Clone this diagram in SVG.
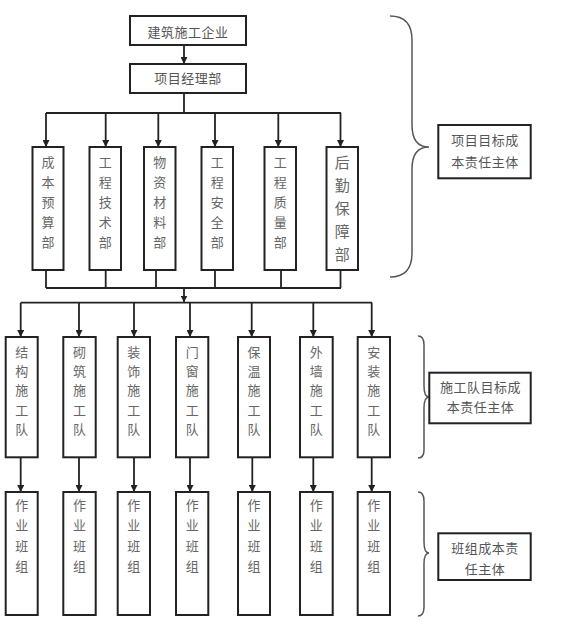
<svg xmlns="http://www.w3.org/2000/svg" width="572" height="633" viewBox="0 0 572 633">
<style>
.box{fill:#fff;stroke:#222;stroke-width:2}
.ln{fill:none;stroke:#222;stroke-width:1.8}
.br{fill:none;stroke:#555;stroke-width:1.5}
.t{font-family:"Noto Sans CJK SC","Noto Sans CJK TC",sans-serif;font-size:13px;fill:#666;text-anchor:middle}
.tb{font-size:15px}
.th{fill:#555;letter-spacing:0.5px}
</style>
<defs>
<marker id="ah" viewBox="0 0 8 8" refX="8" refY="4" markerWidth="7" markerHeight="7" markerUnits="userSpaceOnUse" orient="auto">
<path d="M0,0 L8,4 L0,8 z" fill="#222"/>
</marker>
</defs>
<rect width="572" height="633" fill="#fff"/>
<g id="connectors">
<line class="ln" x1="184" y1="45" x2="184" y2="64" marker-end="url(#ah)"/>
<line class="ln" x1="184" y1="93" x2="184" y2="113"/>
<line class="ln" x1="46" y1="113" x2="341" y2="113"/>
<line class="ln" x1="46" y1="113" x2="46" y2="147" marker-end="url(#ah)"/>
<line class="ln" x1="105.7" y1="113" x2="105.7" y2="147" marker-end="url(#ah)"/>
<line class="ln" x1="158.3" y1="113" x2="158.3" y2="147" marker-end="url(#ah)"/>
<line class="ln" x1="215" y1="113" x2="215" y2="147" marker-end="url(#ah)"/>
<line class="ln" x1="278.3" y1="113" x2="278.3" y2="147" marker-end="url(#ah)"/>
<line class="ln" x1="340.5" y1="113" x2="340.5" y2="147" marker-end="url(#ah)"/>
<line class="ln" x1="46" y1="270" x2="46" y2="288"/>
<line class="ln" x1="105.7" y1="270" x2="105.7" y2="288"/>
<line class="ln" x1="156" y1="270" x2="156" y2="288"/>
<line class="ln" x1="215" y1="270" x2="215" y2="288"/>
<line class="ln" x1="281" y1="270" x2="281" y2="288"/>
<line class="ln" x1="340.5" y1="270" x2="340.5" y2="288"/>
<line class="ln" x1="46" y1="288" x2="341" y2="288"/>
<line class="ln" x1="184" y1="288" x2="184" y2="302.5" marker-end="url(#ah)"/>
<line class="ln" x1="20.7" y1="302.7" x2="372" y2="302.7"/>
<line class="ln" x1="20.7" y1="302.7" x2="20.7" y2="337" marker-end="url(#ah)"/>
<line class="ln" x1="79" y1="302.7" x2="79" y2="337" marker-end="url(#ah)"/>
<line class="ln" x1="134" y1="302.7" x2="134" y2="337" marker-end="url(#ah)"/>
<line class="ln" x1="190" y1="302.7" x2="190" y2="337" marker-end="url(#ah)"/>
<line class="ln" x1="251.7" y1="302.7" x2="251.7" y2="337" marker-end="url(#ah)"/>
<line class="ln" x1="313.3" y1="302.7" x2="313.3" y2="337" marker-end="url(#ah)"/>
<line class="ln" x1="371.7" y1="302.7" x2="371.7" y2="337" marker-end="url(#ah)"/>
<line class="ln" x1="20.7" y1="457.3" x2="20.7" y2="492" marker-end="url(#ah)"/>
<line class="ln" x1="79" y1="457.3" x2="79" y2="492" marker-end="url(#ah)"/>
<line class="ln" x1="134" y1="457.3" x2="134" y2="492" marker-end="url(#ah)"/>
<line class="ln" x1="190" y1="457.3" x2="190" y2="492" marker-end="url(#ah)"/>
<line class="ln" x1="252.3" y1="457.3" x2="252.3" y2="492" marker-end="url(#ah)"/>
<line class="ln" x1="313.3" y1="457.3" x2="313.3" y2="492" marker-end="url(#ah)"/>
<line class="ln" x1="371.7" y1="457.3" x2="371.7" y2="492" marker-end="url(#ah)"/>
</g>
<g id="n-company"><rect class="box" x="130" y="16" width="116" height="29"/><text class="t th" x="188" y="36.5">建筑施工企业</text></g>
<g id="n-pm"><rect class="box" x="130" y="64" width="116" height="29"/><text class="t th" x="188" y="83.3">项目经理部</text></g>
<g id="n-d1"><rect class="box" x="32.5" y="147" width="31" height="123"/><text class="t" y="166.7"><tspan x="48">成</tspan><tspan x="48" dy="20">本</tspan><tspan x="48" dy="20">预</tspan><tspan x="48" dy="20">算</tspan><tspan x="48" dy="20">部</tspan></text></g>
<g id="n-d2"><rect class="box" x="89.5" y="147" width="31.5" height="123"/><text class="t" y="166.7"><tspan x="105.3">工</tspan><tspan x="105.3" dy="20">程</tspan><tspan x="105.3" dy="20">技</tspan><tspan x="105.3" dy="20">术</tspan><tspan x="105.3" dy="20">部</tspan></text></g>
<g id="n-d3"><rect class="box" x="144" y="147" width="31.5" height="123"/><text class="t" y="166.7"><tspan x="159.8">物</tspan><tspan x="159.8" dy="20">资</tspan><tspan x="159.8" dy="20">材</tspan><tspan x="159.8" dy="20">料</tspan><tspan x="159.8" dy="20">部</tspan></text></g>
<g id="n-d4"><rect class="box" x="201.5" y="147" width="31.5" height="123"/><text class="t" y="166.7"><tspan x="217.3">工</tspan><tspan x="217.3" dy="20">程</tspan><tspan x="217.3" dy="20">安</tspan><tspan x="217.3" dy="20">全</tspan><tspan x="217.3" dy="20">部</tspan></text></g>
<g id="n-d5"><rect class="box" x="264.5" y="147" width="31.5" height="123"/><text class="t" y="166.7"><tspan x="280.3">工</tspan><tspan x="280.3" dy="20">程</tspan><tspan x="280.3" dy="20">质</tspan><tspan x="280.3" dy="20">量</tspan><tspan x="280.3" dy="20">部</tspan></text></g>
<g id="n-d6"><rect class="box" x="326.5" y="147" width="31.5" height="123"/><text class="t tb" y="167.5"><tspan x="342.3">后</tspan><tspan x="342.3" dy="23">勤</tspan><tspan x="342.3" dy="23">保</tspan><tspan x="342.3" dy="23">障</tspan><tspan x="342.3" dy="23">部</tspan></text></g>
<g id="n-t1"><rect class="box" x="5.7" y="337" width="32" height="120.3"/><text class="t" y="356.7"><tspan x="21.7">结</tspan><tspan x="21.7" dy="19.3">构</tspan><tspan x="21.7" dy="19.3">施</tspan><tspan x="21.7" dy="19.3">工</tspan><tspan x="21.7" dy="19.3">队</tspan></text></g>
<g id="n-t2"><rect class="box" x="63.3" y="337" width="32.4" height="120.3"/><text class="t" y="356.7"><tspan x="79.5">砌</tspan><tspan x="79.5" dy="19.3">筑</tspan><tspan x="79.5" dy="19.3">施</tspan><tspan x="79.5" dy="19.3">工</tspan><tspan x="79.5" dy="19.3">队</tspan></text></g>
<g id="n-t3"><rect class="box" x="117.7" y="337" width="32.3" height="120.3"/><text class="t" y="356.7"><tspan x="133.8">装</tspan><tspan x="133.8" dy="19.3">饰</tspan><tspan x="133.8" dy="19.3">施</tspan><tspan x="133.8" dy="19.3">工</tspan><tspan x="133.8" dy="19.3">队</tspan></text></g>
<g id="n-t4"><rect class="box" x="176" y="337" width="32.3" height="120.3"/><text class="t" y="356.7"><tspan x="192.2">门</tspan><tspan x="192.2" dy="19.3">窗</tspan><tspan x="192.2" dy="19.3">施</tspan><tspan x="192.2" dy="19.3">工</tspan><tspan x="192.2" dy="19.3">队</tspan></text></g>
<g id="n-t5"><rect class="box" x="238" y="337" width="32" height="120.3"/><text class="t" y="356.7"><tspan x="254">保</tspan><tspan x="254" dy="19.3">温</tspan><tspan x="254" dy="19.3">施</tspan><tspan x="254" dy="19.3">工</tspan><tspan x="254" dy="19.3">队</tspan></text></g>
<g id="n-t6"><rect class="box" x="300" y="337" width="32.7" height="120.3"/><text class="t" y="356.7"><tspan x="316.3">外</tspan><tspan x="316.3" dy="19.3">墙</tspan><tspan x="316.3" dy="19.3">施</tspan><tspan x="316.3" dy="19.3">工</tspan><tspan x="316.3" dy="19.3">队</tspan></text></g>
<g id="n-t7"><rect class="box" x="357.7" y="337" width="32.3" height="120.3"/><text class="t" y="356.7"><tspan x="373.8">安</tspan><tspan x="373.8" dy="19.3">装</tspan><tspan x="373.8" dy="19.3">施</tspan><tspan x="373.8" dy="19.3">工</tspan><tspan x="373.8" dy="19.3">队</tspan></text></g>
<g id="n-w1"><rect class="box" x="5.7" y="492" width="32" height="123"/><text class="t" y="510"><tspan x="21.7">作</tspan><tspan x="21.7" dy="20.3">业</tspan><tspan x="21.7" dy="20.3">班</tspan><tspan x="21.7" dy="20.3">组</tspan></text></g>
<g id="n-w2"><rect class="box" x="63.3" y="492" width="32.4" height="123"/><text class="t" y="510"><tspan x="79.5">作</tspan><tspan x="79.5" dy="20.3">业</tspan><tspan x="79.5" dy="20.3">班</tspan><tspan x="79.5" dy="20.3">组</tspan></text></g>
<g id="n-w3"><rect class="box" x="117.7" y="492" width="32.3" height="123"/><text class="t" y="510"><tspan x="133.8">作</tspan><tspan x="133.8" dy="20.3">业</tspan><tspan x="133.8" dy="20.3">班</tspan><tspan x="133.8" dy="20.3">组</tspan></text></g>
<g id="n-w4"><rect class="box" x="176" y="492" width="32.3" height="123"/><text class="t" y="510"><tspan x="192.2">作</tspan><tspan x="192.2" dy="20.3">业</tspan><tspan x="192.2" dy="20.3">班</tspan><tspan x="192.2" dy="20.3">组</tspan></text></g>
<g id="n-w5"><rect class="box" x="238" y="492" width="32" height="123"/><text class="t" y="510"><tspan x="254">作</tspan><tspan x="254" dy="20.3">业</tspan><tspan x="254" dy="20.3">班</tspan><tspan x="254" dy="20.3">组</tspan></text></g>
<g id="n-w6"><rect class="box" x="300" y="492" width="32.7" height="123"/><text class="t" y="510"><tspan x="316.3">作</tspan><tspan x="316.3" dy="20.3">业</tspan><tspan x="316.3" dy="20.3">班</tspan><tspan x="316.3" dy="20.3">组</tspan></text></g>
<g id="n-w7"><rect class="box" x="357.7" y="492" width="32.3" height="123"/><text class="t" y="510"><tspan x="373.8">作</tspan><tspan x="373.8" dy="20.3">业</tspan><tspan x="373.8" dy="20.3">班</tspan><tspan x="373.8" dy="20.3">组</tspan></text></g>
<g id="braces">
<path class="br" d="M390,16 C404,16 412,24 412,40 L412,125 C412,140 418,147 429,147 C418,147 412,154 412,169 L412,253 C412,269 404,277 390,277"/>
<path class="br" d="M418,336 C422,336 424,339 424,345 L424,386 C424,393 426,397 429,397 C426,397 424,401 424,408 L424,450 C424,456 422,458 418,458"/>
<path class="br" d="M418,492 C422,492 424,495 424,501 L424,542 C424,549 426,553 429,553 C426,553 424,557 424,564 L424,607 C424,613 422,616 418,616"/>
</g>
<g id="n-r1"><rect class="box" x="438.3" y="125" width="92.4" height="53.3"/><text class="t th" x="485" y="145">项目目标成</text><text class="t th" x="485" y="166.7">本责任主体</text></g>
<g id="n-r2"><rect class="box" x="429.3" y="372.7" width="101.4" height="50.6"/><text class="t th" x="480.5" y="391.7">施工队目标成</text><text class="t th" x="480.5" y="412.3">本责任主体</text></g>
<g id="n-r3"><rect class="box" x="438.3" y="533.3" width="92.4" height="46.7"/><text class="t th" x="485" y="553.3">班组成本责</text><text class="t th" x="485" y="574.3">任主体</text></g>
</svg>
